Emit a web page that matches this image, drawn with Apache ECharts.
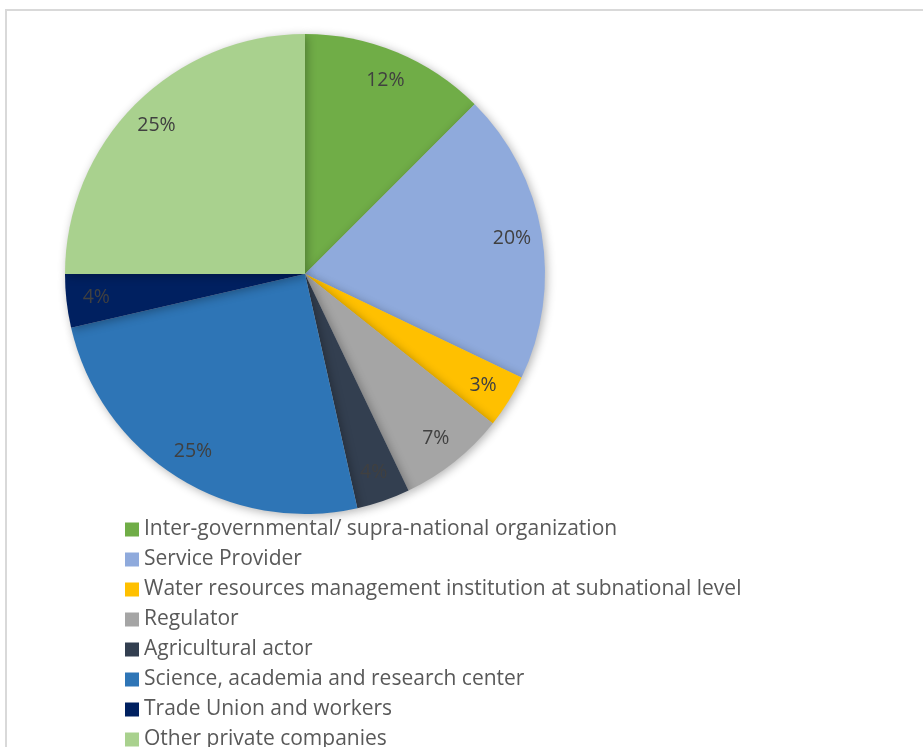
<!DOCTYPE html>
<html>
<head>
<meta charset="utf-8">
<script src="https://cdn.jsdelivr.net/npm/echarts@6/dist/echarts.min.js"></script>
<style>html,body{margin:0;padding:0;background:#fff;}#c{width:923px;height:747px;}</style>
</head>
<body>
<div id="c"></div>
<script>
var categories = [
  "Inter-governmental/ supra-national organization",
  "Service Provider",
  "Water resources management institution at subnational level",
  "Regulator",
  "Agricultural actor",
  "Science, academia and research center",
  "Trade Union and workers",
  "Other private companies"
];
var shares = [12.5, 19.6, 3.6, 7.2, 3.6, 24.9, 3.6, 25.0];
var shareLabels = ["12%", "20%", "3%", "7%", "4%", "25%", "4%", "25%"];
var colors = ["#70ad47", "#8faadc", "#ffc000", "#a5a5a5", "#333f50", "#2e75b6", "#002060", "#a9d18e"];

var FONT = "'Open Sans', 'Liberation Sans', sans-serif";
var data = categories.map(function (c, i) {
  return { name: c, value: shares[i], itemStyle: { color: colors[i] } };
});
var labelData = categories.map(function (c, i) {
  return { name: c, value: shares[i] };
});

var chart = echarts.init(document.getElementById('c'), null, { renderer: 'canvas' });
chart.setOption({
  animation: false,
  backgroundColor: '#fff',
  graphic: [{
    type: 'rect', silent: true,
    shape: { x: 6, y: 10, width: 1000, height: 1000 },
    style: { fill: 'none', stroke: '#d9d9d9', lineWidth: 2 }
  }],
  legend: {
    orient: 'vertical',
    left: 120,
    top: 514,
    height: 260,
    icon: 'rect',
    itemWidth: 14,
    itemHeight: 14,
    itemGap: 9,
    selectedMode: false,
    data: categories,
    textStyle: { fontFamily: FONT, fontSize: 21, color: '#595959', lineHeight: 20 }
  },
  series: [{
    type: 'pie',
    center: [305, 274],
    radius: [0, 240],
    startAngle: 90,
    clockwise: true,
    silent: true,
    label: { show: false },
    labelLine: { show: false },
    itemStyle: { borderWidth: 0, shadowBlur: 10, shadowColor: 'rgba(0,0,0,0.3)', shadowOffsetX: 2, shadowOffsetY: 2 },
    data: data
  }, {
    type: 'pie',
    center: [305, 274],
    radius: [174, 240],
    startAngle: 90,
    clockwise: true,
    silent: true,
    legendHoverLink: false,
    itemStyle: { color: 'rgba(0,0,0,0)', borderWidth: 0 },
    label: {
      show: true,
      position: 'inside',
      fontFamily: FONT,
      fontSize: 19.5,
      color: '#404040',
      formatter: function (p) { return shareLabels[p.dataIndex]; }
    },
    labelLine: { show: false },
    data: labelData
  }]
});
</script>
</body>
</html>
